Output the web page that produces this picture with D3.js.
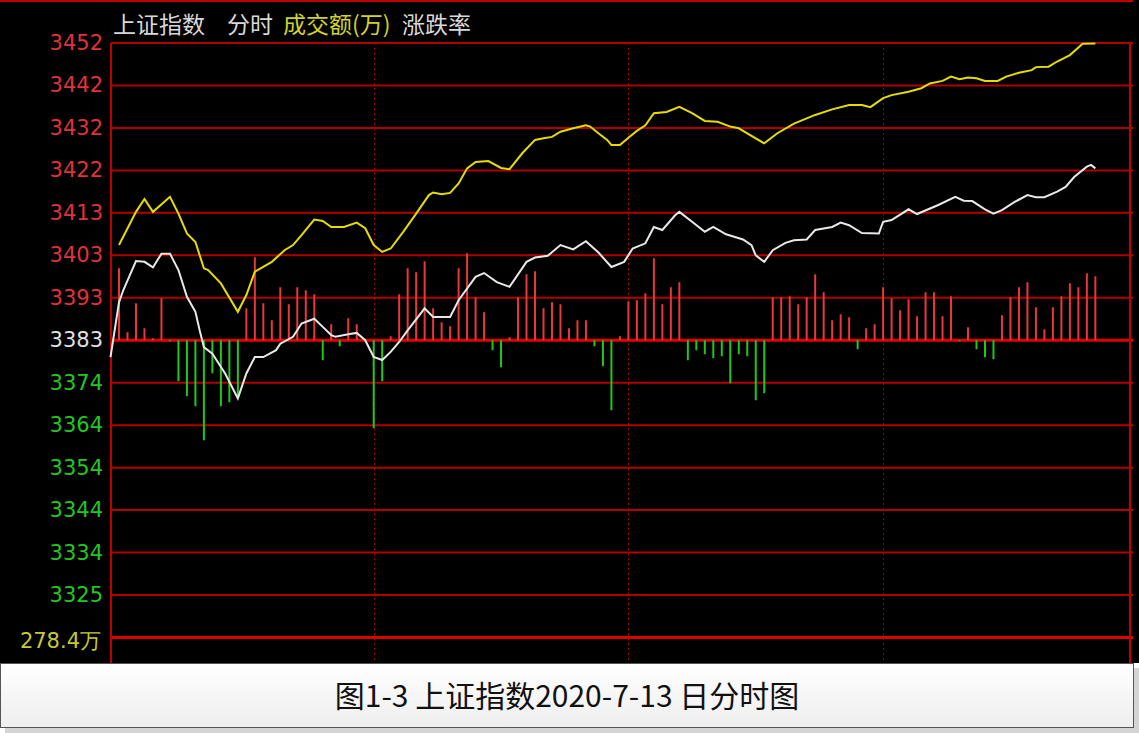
<!DOCTYPE html>
<html><head><meta charset="utf-8">
<script src="https://cdn.jsdelivr.net/npm/d3@7"></script>
<style>html,body{margin:0;padding:0;background:#000;overflow:hidden}</style>
</head><body>
<svg id="chart" width="1139" height="733"></svg>
<script>
// ---------- data ----------
const prevClose = 3383.3;
const priceStep = 9.857;
const priceTickLabels = ["3452","3442","3432","3422","3413","3403","3393","3383","3374","3364","3354","3344","3334","3325"];
const volumeLabel = "278.4万";
const headerTexts = ["上证指数","分时","成交额(万)","涨跌率"];
const captionText = "图1-3 上证指数2020-7-13 日分时图";
const hourMarks = [60, 120, 180]; // minutes after 9:30 : 10:30, 11:30/13:00, 14:00

// weighted index (white): [minute after 9:30, price]
const indexLine = [[-2,3379.4],[0,3392.1],[1,3394.9],[4,3401.7],[6,3401.5],[8,3400.2],[10,3403.4],[12,3403.4],[14,3399.6],[16,3393.4],[18,3389.9],[19,3385.6],[20,3381.7],[22,3380.2],[25,3375.6],[28,3369.8],[30,3375.6],[32,3379.4],[34,3379.4],[37,3381.0],[38,3382.5],[41,3384.1],[43,3387.2],[46,3388.3],[48,3386.4],[50,3384.5],[51,3384.1],[54,3384.7],[56,3385.0],[58,3383.3],[60,3379.4],[62,3378.7],[64,3380.6],[66,3382.9],[68,3385.6],[72,3390.7],[74,3388.7],[78,3388.7],[80,3392.6],[84,3398.0],[86,3398.9],[89,3396.8],[92,3395.7],[96,3401.5],[98,3402.5],[101,3402.9],[104,3405.4],[107,3404.4],[110,3406.3],[113,3403.6],[116,3400.3],[119,3401.5],[121,3404.6],[124,3405.8],[126,3409.6],[128,3408.9],[131,3412.3],[132,3413.1],[135,3410.8],[138,3408.5],[140,3409.6],[143,3407.9],[147,3406.7],[149,3405.4],[150,3403.0],[152,3401.5],[154,3404.2],[157,3405.9],[159,3406.5],[162,3406.7],[164,3408.9],[168,3409.6],[170,3410.6],[172,3410.0],[175,3408.2],[179,3408.1],[180,3410.8],[182,3411.2],[186,3413.7],[188,3412.6],[193,3414.7],[197,3416.6],[199,3415.7],[201,3415.6],[203,3414.3],[204,3413.7],[206,3412.7],[208,3413.5],[211,3415.4],[214,3417.0],[216,3416.5],[218,3416.5],[221,3417.8],[223,3418.9],[225,3421.2],[228,3423.6],[229,3424.0],[230,3423.2]];

// unweighted index (yellow)
const avgLine = [[0,3405.4],[4,3413.1],[6,3416.1],[8,3413.1],[12,3416.6],[14,3412.7],[16,3408.1],[18,3406.1],[20,3400.0],[21,3399.6],[24,3396.5],[28,3389.9],[30,3393.8],[32,3399.2],[36,3401.5],[39,3404.2],[41,3405.4],[43,3407.7],[46,3411.3],[48,3411.0],[50,3409.6],[53,3409.6],[56,3410.6],[58,3409.3],[60,3405.4],[62,3403.8],[64,3404.6],[67,3408.5],[70,3412.7],[73,3417.0],[74,3417.6],[76,3417.2],[78,3417.5],[80,3419.7],[82,3423.2],[84,3424.7],[87,3424.9],[90,3423.3],[92,3423.0],[95,3426.7],[98,3429.8],[100,3430.2],[102,3430.5],[104,3431.7],[107,3432.5],[110,3433.2],[111,3432.9],[113,3431.3],[115,3429.8],[116,3428.6],[118,3428.6],[120,3430.3],[122,3431.9],[124,3433.2],[126,3436.0],[129,3436.3],[132,3437.5],[135,3436.0],[138,3434.2],[141,3434.0],[144,3432.9],[146,3432.5],[148,3431.3],[152,3429.0],[155,3431.3],[159,3433.6],[164,3435.6],[168,3436.9],[172,3437.9],[175,3437.9],[177,3437.4],[180,3439.5],[182,3440.2],[186,3441.0],[189,3441.8],[191,3442.9],[194,3443.5],[196,3444.5],[198,3443.9],[200,3444.3],[202,3444.1],[204,3443.5],[207,3443.5],[209,3444.5],[212,3445.4],[215,3446.0],[216,3446.7],[219,3446.8],[221,3448.0],[224,3449.5],[227,3452.1],[230,3452.2]];

// 涨跌率 bars, one every 2 minutes (positive = red, negative = green)
const ratioBars = [72,8,37,12,2,42,-1,-41,-56,-66,-100,-33,-66,-62,-58,32,83,37,20,53,36,53,50,46,-20,16,-6,22,16,0,-88,-41,4,46,72,68,79,32,18,14,72,87,43,28,-10,-27,3,43,66,69,32,38,36,12,20,20,-6,-26,-70,4,39,40,47,82,36,53,58,-20,-10,-14,-18,-16,-43,-14,-16,-60,-53,43,43,44,36,43,66,48,20,26,23,-9,12,16,53,42,30,41,24,48,48,24,44,-1,13,-9,-17,-19,25,43,53,58,33,11,33,44,57,53,67,64];

// ---------- drawing ----------
const svg = d3.select("#chart");
const W = 1139, H = 733;
const plotLeft = 111, plotRight = 1130, plotTop = 43, plotBottom = 637.5, panelBottom = 663;

svg.append("rect").attr("x",0).attr("y",0).attr("width",W).attr("height",panelBottom).attr("fill","#000");

const x = d3.scaleLinear().domain([0,240]).range([119, 1137.8]);
const y = d3.scaleLinear().domain([prevClose - 7*priceStep, prevClose + 7*priceStep]).range([plotBottom, plotTop]);
const yC = y(prevClose);
const barY = d3.scaleLinear().domain([-100,100]).range([yC+100, yC-100]);

// top line
svg.append("line").attr("x1",0).attr("x2",1133).attr("y1",1).attr("y2",1)
  .attr("stroke","#c00000").attr("stroke-width",2);

// horizontal grid
const levels = d3.range(7,-8,-1);
svg.append("g").selectAll("line").data(levels).join("line")
  .attr("x1",plotLeft).attr("x2",1133)
  .attr("y1",k=>y(prevClose+k*priceStep)).attr("y2",k=>y(prevClose+k*priceStep))
  .attr("stroke",k=> (k===0||k===-7) ? "#e00000" : "#b00000")
  .attr("stroke-width",k=> (k===0||k===-7) ? 3 : 2);

// vertical dotted lines
svg.append("g").selectAll("line").data(hourMarks).join("line")
  .attr("x1",d=>Math.round(x(d))+0.5).attr("x2",d=>Math.round(x(d))+0.5)
  .attr("y1",plotTop).attr("y2",panelBottom)
  .attr("stroke","#a00000").attr("stroke-width",1).attr("stroke-dasharray","2,3");

// borders
svg.append("line").attr("x1",plotLeft).attr("x2",plotLeft).attr("y1",plotTop).attr("y2",panelBottom)
  .attr("stroke","#c00000").attr("stroke-width",2);
svg.append("line").attr("x1",plotRight).attr("x2",plotRight).attr("y1",plotTop).attr("y2",panelBottom)
  .attr("stroke","#c00000").attr("stroke-width",2);

// bars
svg.append("g").selectAll("line").data(ratioBars.map((v,i)=>[i*2,v]).filter(d=>d[1]!==0)).join("line")
  .attr("x1",d=>x(d[0])).attr("x2",d=>x(d[0]))
  .attr("y1",barY(0)).attr("y2",d=>barY(d[1]))
  .attr("stroke",d=>d[1]>0 ? "#e8383c" : "#1ec81e").attr("stroke-width",2);

// lines
const line = d3.line().x(d=>x(d[0])).y(d=>y(d[1]));
svg.append("path").datum(avgLine).attr("d",line).attr("fill","none")
  .attr("stroke","#e6dc00").attr("stroke-width",2);
svg.append("path").datum(indexLine).attr("d",line).attr("fill","none")
  .attr("stroke","#e8e8e8").attr("stroke-width",2);

// y labels
svg.append("g").selectAll("text").data(priceTickLabels).join("text")
  .attr("x",103).attr("y",(d,i)=>y(prevClose+(7-i)*priceStep))
  .attr("text-anchor","end").attr("dominant-baseline","central")
  .attr("font-family","DejaVu Sans, sans-serif").attr("font-size",21)
  .attr("fill",(d,i)=> i<7 ? "#e0323a" : (i===7 ? "#e0e0e0" : "#22c822"))
  .text(d=>d);
svg.append("text").attr("x",101).attr("y",y(prevClose-7*priceStep)+3)
  .attr("text-anchor","end").attr("dominant-baseline","central")
  .attr("font-family","DejaVu Sans, sans-serif").attr("font-size",21)
  .attr("fill","#c8c832").text(volumeLabel);

// header
const headerX = [113, 227, 283, 402];
const headerColor = ["#d8d8d8","#d8d8d8","#d2d228","#d8d8d8"];
svg.append("g").selectAll("text").data(headerTexts).join("text")
  .attr("x",(d,i)=>headerX[i]).attr("y",33)
  .attr("font-family","Noto Sans CJK SC, sans-serif").attr("font-size",23)
  .attr("fill",(d,i)=>headerColor[i]).text(d=>d);

// caption box
const defs = svg.append("defs");
const grad = defs.append("linearGradient").attr("id","capg").attr("x1",0).attr("x2",0).attr("y1",0).attr("y2",1);
grad.append("stop").attr("offset","0%").attr("stop-color","#ffffff");
grad.append("stop").attr("offset","100%").attr("stop-color","#eeeeee");
svg.append("rect").attr("x",0).attr("y",panelBottom).attr("width",W).attr("height",H-panelBottom).attr("fill","#ffffff");
svg.append("rect").attr("x",5).attr("y",panelBottom+5).attr("width",1134).attr("height",H-panelBottom-5).attr("fill","#d4d4d4");
svg.append("rect").attr("x",0.5).attr("y",panelBottom+0.5).attr("width",1133).attr("height",64)
  .attr("fill","url(#capg)").attr("stroke","#555").attr("stroke-width",1);
svg.append("text").attr("x",567).attr("y",707).attr("text-anchor","middle")
  .attr("font-family","Noto Sans CJK SC, sans-serif").attr("font-size",30).attr("fill","#111")
  .text(captionText);
</script>
</body></html>
